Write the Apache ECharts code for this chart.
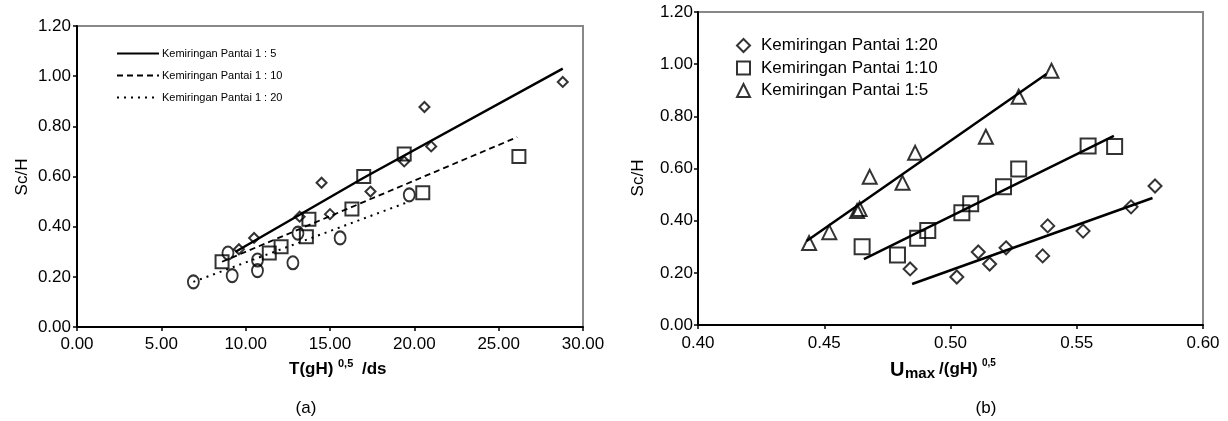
<!DOCTYPE html>
<html>
<head>
<meta charset="utf-8">
<script src="https://cdn.jsdelivr.net/npm/echarts@6/dist/echarts.min.js"></script>
<style>
html, body { margin: 0; padding: 0; background: #fff; }
#main { width: 1228px; height: 421px; }
</style>
</head>
<body>
<div id="main"></div>
<script>
// ---- chart (a): Sc/H vs T(gH)^0.5/ds ----
var aDiamondX = [9.6, 10.5, 13.2, 14.5, 15.0, 17.4, 19.4, 20.6, 21.0, 28.8];
var aDiamondY = [0.31, 0.355, 0.44, 0.575, 0.45, 0.54, 0.66, 0.877, 0.72, 0.977];
var aSquareX = [8.6, 11.4, 12.1, 13.6, 13.75, 16.3, 17.0, 19.4, 20.5, 26.2];
var aSquareY = [0.26, 0.295, 0.32, 0.36, 0.43, 0.47, 0.60, 0.69, 0.535, 0.68];
var aCircleX = [6.9, 8.95, 9.2, 10.7, 10.7, 12.8, 13.1, 15.6, 19.7];
var aCircleY = [0.18, 0.295, 0.205, 0.267, 0.225, 0.256, 0.374, 0.355, 0.527];
// trend lines (a)
var aLine5X = [9.4, 17.0, 28.8];
var aLine5Y = [0.30, 0.595, 1.03];
var aLine10X = [8.6, 26.1];
var aLine10Y = [0.26, 0.757];
var aLine20X = [6.9, 19.7];
var aLine20Y = [0.18, 0.50];

// ---- chart (b): Sc/H vs Umax/(gH)^0.5 ----
var bDiamondX = [0.484, 0.5025, 0.511, 0.5155, 0.522, 0.5365, 0.5385, 0.5525, 0.5715, 0.581];
var bDiamondY = [0.215, 0.184, 0.28, 0.234, 0.296, 0.265, 0.38, 0.36, 0.453, 0.533];
var bSquareX = [0.465, 0.479, 0.487, 0.491, 0.5045, 0.508, 0.521, 0.527, 0.5545, 0.565];
var bSquareY = [0.30, 0.268, 0.333, 0.362, 0.43, 0.465, 0.53, 0.598, 0.686, 0.684];
var bTriangleX = [0.444, 0.452, 0.463, 0.464, 0.468, 0.481, 0.486, 0.514, 0.527, 0.540];
var bTriangleY = [0.314, 0.356, 0.437, 0.445, 0.568, 0.545, 0.66, 0.722, 0.875, 0.975];
// trend lines (b)
var bLine20X = [0.4848, 0.580];
var bLine20Y = [0.157, 0.487];
var bLine10X = [0.4657, 0.5647];
var bLine10Y = [0.253, 0.725];
var bLine5X = [0.443, 0.538];
var bLine5Y = [0.322, 0.962];

function zip (xs, ys) {
	var out = [];
	for (var i = 0; i < xs.length; i++) {
		out.push([xs[i], ys[i]]);
	}
	return out;
}

var font = 'Liberation Sans, Arial, sans-serif';
var hollow = { color: 'transparent', borderColor: '#000', borderWidth: 2 };

function makeAxis (grid, min, max, interval, labelMargin) {
	return {
		type: 'value',
		gridIndex: grid,
		min: min,
		max: max,
		interval: interval,
		splitLine: { show: false },
		axisLine: { show: true, onZero: false, lineStyle: { color: '#000', width: 2 } },
		axisTick: { show: true, inside: false, length: 4, lineStyle: { color: '#000', width: 1.5 } },
		axisLabel: {
			color: '#000', fontSize: 17, fontFamily: font, margin: labelMargin,
			formatter: function (v) { return v.toFixed(2); }
		}
	};
}

var chart = echarts.init(document.getElementById('main'));

var option = {
	backgroundColor: '#fff',
	animation: false,
	grid: [
		{ left: 77, top: 26, width: 506, height: 301, show: true, borderColor: '#888', borderWidth: 2, backgroundColor: 'transparent' },
		{ left: 698, top: 12, width: 505, height: 313, show: true, borderColor: '#888', borderWidth: 2, backgroundColor: 'transparent' }
	],
	xAxis: [
		makeAxis(0, 0, 30, 5, 9),
		makeAxis(1, 0.4, 0.6, 0.05, 10)
	],
	yAxis: [
		makeAxis(0, 0, 1.2, 0.2, 6),
		makeAxis(1, 0, 1.2, 0.2, 5)
	],
	legend: [
		{
			data: ['Kemiringan Pantai 1 : 5', 'Kemiringan Pantai 1 : 10', 'Kemiringan Pantai 1 : 20'],
			orient: 'vertical',
			left: 111, top: 43,
			itemWidth: 42, itemHeight: 12, itemGap: 11,
			itemStyle: { color: 'rgba(0,0,0,0)', borderColor: 'rgba(0,0,0,0)', borderWidth: 0, opacity: 0 },
			textStyle: { fontSize: 11, fontFamily: font, color: '#000', padding: [0, 0, 0, -2] },
			selectedMode: false
		},
		{
			data: ['Kemiringan Pantai 1:20', 'Kemiringan Pantai 1:10', 'Kemiringan Pantai 1:5'],
			orient: 'vertical',
			left: 731, top: 32,
			itemWidth: 13, itemHeight: 13, itemGap: 5.5,
			textStyle: { fontSize: 17, fontFamily: font, color: '#000', padding: [0, 0, 0, 6] },
			selectedMode: false
		}
	],
	series: [
		// (a) trend lines
		{ name: 'Kemiringan Pantai 1 : 5', type: 'line', xAxisIndex: 0, yAxisIndex: 0, symbol: 'none',
			data: zip(aLine5X, aLine5Y), lineStyle: { color: '#000', width: 2.5 }, itemStyle: { color: '#000' } },
		{ name: 'Kemiringan Pantai 1 : 10', type: 'line', xAxisIndex: 0, yAxisIndex: 0, symbol: 'none',
			data: zip(aLine10X, aLine10Y), lineStyle: { color: '#000', width: 1.8, type: [6, 4] }, itemStyle: { color: '#000' } },
		{ name: 'Kemiringan Pantai 1 : 20', type: 'line', xAxisIndex: 0, yAxisIndex: 0, symbol: 'none',
			data: zip(aLine20X, aLine20Y), lineStyle: { color: '#000', width: 2, type: [2, 5] }, itemStyle: { color: '#000' } },
		// (a) points
		{ name: 'a1:5', type: 'scatter', xAxisIndex: 0, yAxisIndex: 0, symbol: 'diamond', symbolSize: 10,
			data: zip(aDiamondX, aDiamondY), itemStyle: hollow, z: 3 },
		{ name: 'a1:10', type: 'scatter', xAxisIndex: 0, yAxisIndex: 0, symbol: 'rect', symbolSize: 13,
			data: zip(aSquareX, aSquareY), itemStyle: hollow, z: 3 },
		{ name: 'a1:20', type: 'scatter', xAxisIndex: 0, yAxisIndex: 0, symbol: 'circle', symbolSize: [11, 13],
			data: zip(aCircleX, aCircleY), itemStyle: hollow, z: 3 },
		// (b) trend lines
		{ name: 'b-line-20', type: 'line', xAxisIndex: 1, yAxisIndex: 1, symbol: 'none',
			data: zip(bLine20X, bLine20Y), lineStyle: { color: '#000', width: 2.5 } },
		{ name: 'b-line-10', type: 'line', xAxisIndex: 1, yAxisIndex: 1, symbol: 'none',
			data: zip(bLine10X, bLine10Y), lineStyle: { color: '#000', width: 2.5 } },
		{ name: 'b-line-5', type: 'line', xAxisIndex: 1, yAxisIndex: 1, symbol: 'none',
			data: zip(bLine5X, bLine5Y), lineStyle: { color: '#000', width: 2.5 } },
		// (b) points
		{ name: 'Kemiringan Pantai 1:20', type: 'scatter', xAxisIndex: 1, yAxisIndex: 1, symbol: 'diamond', symbolSize: 13,
			data: zip(bDiamondX, bDiamondY), itemStyle: hollow, z: 3 },
		{ name: 'Kemiringan Pantai 1:10', type: 'scatter', xAxisIndex: 1, yAxisIndex: 1, symbol: 'rect', symbolSize: 15,
			data: zip(bSquareX, bSquareY), itemStyle: hollow, z: 3 },
		{ name: 'Kemiringan Pantai 1:5', type: 'scatter', xAxisIndex: 1, yAxisIndex: 1, symbol: 'triangle', symbolSize: 14,
			data: zip(bTriangleX, bTriangleY), itemStyle: hollow, z: 3 }
	],
	graphic: [
		// y titles
		{ type: 'text', x: 22, y: 177, rotation: Math.PI / 2,
			style: { text: 'Sc/H', font: '17px ' + font, fill: '#000', textAlign: 'center', textVerticalAlign: 'middle' } },
		{ type: 'text', x: 638, y: 178, rotation: Math.PI / 2,
			style: { text: 'Sc/H', font: '17px ' + font, fill: '#000', textAlign: 'center', textVerticalAlign: 'middle' } },
		// x title (a)
		{ type: 'text', x: 289, y: 369,
			style: { text: 'T(gH)', font: 'bold 17px ' + font, fill: '#000', textVerticalAlign: 'middle' } },
		{ type: 'text', x: 338, y: 364,
			style: { text: '0,5', font: 'bold 11px ' + font, fill: '#000', textVerticalAlign: 'middle' } },
		{ type: 'text', x: 362, y: 369,
			style: { text: '/ds', font: 'bold 17px ' + font, fill: '#000', textVerticalAlign: 'middle' } },
		// x title (b)
		{ type: 'text', x: 890, y: 370,
			style: { text: 'U', font: 'bold 20px ' + font, fill: '#000', textVerticalAlign: 'middle' } },
		{ type: 'text', x: 905, y: 374,
			style: { text: 'max', font: 'bold 15px ' + font, fill: '#000', textVerticalAlign: 'middle' } },
		{ type: 'text', x: 939, y: 369,
			style: { text: '/(gH)', font: 'bold 17px ' + font, fill: '#000', textVerticalAlign: 'middle' } },
		{ type: 'text', x: 982, y: 363,
			style: { text: '0,5', font: 'bold 10px ' + font, fill: '#000', textVerticalAlign: 'middle' } },
		// panel labels
		{ type: 'text', x: 306, y: 408,
			style: { text: '(a)', font: '17px ' + font, fill: '#000', textAlign: 'center', textVerticalAlign: 'middle' } },
		{ type: 'text', x: 986, y: 408,
			style: { text: '(b)', font: '17px ' + font, fill: '#000', textAlign: 'center', textVerticalAlign: 'middle' } }
	]
};

chart.setOption(option);
</script>
</body>
</html>
